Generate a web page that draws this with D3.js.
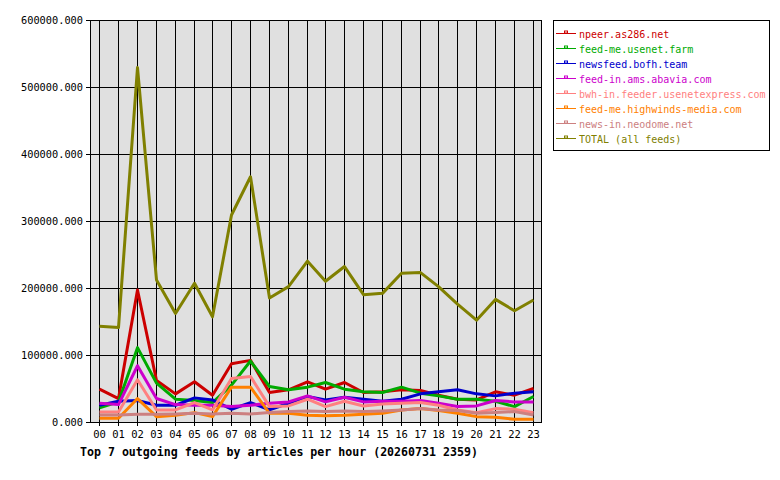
<!DOCTYPE html>
<html>
<head>
<meta charset="utf-8">
<script src="https://cdn.jsdelivr.net/npm/d3@7"></script>
<style>
  body { margin: 0; background: #fff; }
  svg { display: block; }
  text { font-family: "DejaVu Sans Mono", monospace; }
</style>
</head>
<body>
<svg id="chart" width="780" height="480"></svg>
<script>
const hours = ["00","01","02","03","04","05","06","07","08","09","10","11","12","13","14","15","16","17","18","19","20","21","22","23"];
const yTicks = [0, 100000, 200000, 300000, 400000, 500000, 600000];
const feedNames = ["npeer.as286.net","feed-me.usenet.farm","newsfeed.bofh.team","feed-in.ams.abavia.com","bwh-in.feeder.usenetexpress.com","feed-me.highwinds-media.com","news-in.neodome.net","TOTAL (all feeds)"];
const feedColors = ["#cc0000","#00aa00","#0000cc","#cc00cc","#ff8080","#ff8000","#cc8080","#808000"];

const npeer     = [49000,35000,197000,62000,42000,60000,40000,87000,92000,44000,48000,60000,49000,59000,44000,45000,48000,47000,40000,34000,33000,45000,40000,50000];
const usenetFarm= [21000,30000,111000,58000,34000,32000,29000,55000,91000,53000,48000,52000,59000,49000,45000,44000,52000,43000,39000,34000,34000,31000,23000,38000];
const bofh      = [25000,31000,32000,25000,25000,36000,33000,19000,29000,18000,28000,38000,33000,37000,34000,31000,34000,42000,45000,48000,42000,39000,43000,45000];
const abavia    = [28000,26000,84000,35000,26000,25000,25000,23000,25000,28000,30000,39000,30000,37000,30000,31000,31000,32000,28000,23000,24000,32000,30000,30000];
const bwh       = [15000,15000,63000,18000,18000,29000,18000,65000,68000,23000,24000,34000,23000,31000,24000,27000,28000,29000,25000,18000,14000,20000,19000,14000];
const highwinds = [5500,5500,35000,8000,10000,14000,8000,52000,52000,13000,13000,10000,9500,10000,11500,13000,18000,20000,17000,13000,8000,7000,4000,4000];
const neodome   = [10500,10500,11500,11500,12000,13000,12000,13000,12000,14000,15500,16500,15500,16500,15500,16500,18000,20000,18000,17000,13000,14000,15500,10500];
const total     = [143000,141000,529000,212000,162000,207000,157000,309000,366000,185000,202000,240000,210000,232000,190000,192000,222000,223000,202000,176000,152000,183000,166000,182000];

const seriesValues = [npeer, usenetFarm, bofh, abavia, bwh, highwinds, neodome, total];
const series = feedNames.map((name, i) => ({ name, color: feedColors[i], values: seriesValues[i] }));

const svg = d3.select("#chart");
const L = 90, R = 542, T = 20, B = 422;

const x = d3.scaleBand().domain(hours).range([L, R]);
const xc = h => Math.round(x(h) + x.bandwidth() / 2) + 0.5;
const y = d3.scaleLinear().domain([0, 600000]).range([B, T]);

// plot background
svg.append("rect").attr("x", L).attr("y", T).attr("width", R - L).attr("height", B - T).attr("fill", "#e0e0e0");

// vertical grid + ticks
svg.append("g").selectAll("line").data(hours).join("line")
  .attr("x1", d => xc(d)).attr("x2", d => xc(d))
  .attr("y1", T).attr("y2", B + 4)
  .attr("stroke", "#000").attr("stroke-width", 1);

// horizontal grid + ticks
svg.append("g").selectAll("line").data(yTicks).join("line")
  .attr("x1", L - 4).attr("x2", R)
  .attr("y1", d => Math.round(y(d)) + 0.5).attr("y2", d => Math.round(y(d)) + 0.5)
  .attr("stroke", "#000").attr("stroke-width", 1);

// frame
svg.append("rect").attr("x", L + 0.5).attr("y", T + 0.5).attr("width", R - L - 1).attr("height", B - T)
  .attr("fill", "none").attr("stroke", "#000").attr("stroke-width", 1);

// y labels
svg.append("g").selectAll("text").data(yTicks).join("text")
  .attr("x", 83).attr("y", d => y(d) + 4)
  .attr("text-anchor", "end").attr("font-size", "10.3px").attr("fill", "#000")
  .text(d => d3.format(".3f")(d));

// x labels
svg.append("g").selectAll("text").data(hours).join("text")
  .attr("x", d => xc(d)).attr("y", 438)
  .attr("text-anchor", "middle").attr("font-size", "10.5px").attr("fill", "#000")
  .text(d => d);

// lines
const line = d3.line().x((d, i) => xc(hours[i])).y(d => y(d));
svg.append("g").selectAll("path").data(series).join("path")
  .attr("d", d => line(d.values))
  .attr("fill", "none").attr("stroke", d => d.color).attr("stroke-width", 3)
  .attr("stroke-linejoin", "round");

// title
svg.append("text").attr("x", 80).attr("y", 456)
  .attr("font-size", "11.6px").attr("font-weight", "bold").attr("fill", "#000")
  .text("Top 7 outgoing feeds by articles per hour (20260731 2359)");

// legend
const lg = svg.append("g");
lg.append("rect").attr("x", 553.5).attr("y", 20.5).attr("width", 216).attr("height", 130)
  .attr("fill", "#fff").attr("stroke", "#000").attr("stroke-width", 1);
const items = lg.selectAll("g.item").data(series).join("g").attr("class", "item")
  .attr("transform", (d, i) => `translate(0, ${33.5 + i * 15})`);
items.append("line").attr("x1", 556).attr("x2", 576).attr("y1", 0).attr("y2", 0)
  .attr("stroke", d => d.color).attr("stroke-width", 1);
items.append("rect").attr("x", 564.5).attr("y", -2.5).attr("width", 3).attr("height", 2)
  .attr("fill", "none").attr("stroke", d => d.color).attr("stroke-width", 1);
items.append("text").attr("x", 579).attr("y", 4)
  .attr("font-size", "10px").attr("fill", d => d.color)
  .text(d => d.name);
</script>
</body>
</html>
